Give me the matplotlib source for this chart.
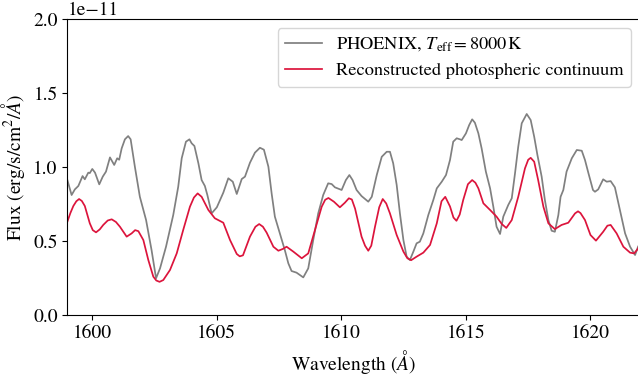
import matplotlib
matplotlib.use("Agg")
import matplotlib.pyplot as plt
import numpy as np

plt.rcParams["font.family"] = ["STIXGeneral", "DejaVu Serif"]
plt.rcParams["mathtext.fontset"] = "stix"

# PHOENIX model spectrum (wavelength in Angstrom, flux in units of 1e-11)
phoenix_wave = [
    1599.0, 1599.17, 1599.3, 1599.44, 1599.61, 1599.7, 1599.84, 1599.9, 1600.0, 1600.11,
    1600.28, 1600.42, 1600.55, 1600.71, 1600.88, 1601.0, 1601.08, 1601.18, 1601.31, 1601.44,
    1601.54, 1601.71, 1601.91, 1602.16, 1602.38, 1602.56, 1602.72, 1602.96, 1603.25, 1603.45,
    1603.59, 1603.76, 1603.9, 1603.99, 1604.1, 1604.26, 1604.39, 1604.52, 1604.62, 1604.79,
    1605.0, 1605.26, 1605.46, 1605.64, 1605.8, 1606.0, 1606.13, 1606.33, 1606.53, 1606.73,
    1606.89, 1607.07, 1607.2, 1607.33, 1607.53, 1607.73, 1607.87, 1608.0, 1608.2, 1608.47,
    1608.67, 1608.87, 1609.07, 1609.27, 1609.47, 1609.61, 1609.74, 1610.01, 1610.18, 1610.32,
    1610.45, 1610.61, 1610.81, 1611.08, 1611.22, 1611.42, 1611.62, 1611.82, 1611.95, 1612.08,
    1612.22, 1612.35, 1612.49, 1612.62, 1612.75, 1612.89, 1613.02, 1613.15, 1613.29, 1613.49,
    1613.69, 1613.83, 1614.03, 1614.2, 1614.36, 1614.49, 1614.63, 1614.76, 1614.83, 1615.0,
    1615.13, 1615.25, 1615.36, 1615.5, 1615.63, 1615.8, 1615.97, 1616.1, 1616.23, 1616.37,
    1616.5, 1616.7, 1616.84, 1616.97, 1617.1, 1617.24, 1617.44, 1617.6, 1617.74, 1617.87,
    1618.04, 1618.17, 1618.31, 1618.44, 1618.57, 1618.71, 1618.8, 1618.91, 1619.04, 1619.25,
    1619.45, 1619.65, 1619.78, 1619.92, 1620.1, 1620.18, 1620.31, 1620.51, 1620.65, 1620.81,
    1620.98, 1621.18, 1621.39, 1621.59, 1621.79, 1621.91, 1622.0,
]
phoenix_flux = [
    0.913, 0.812, 0.85, 0.873, 0.94, 0.918, 0.963, 0.96, 0.988, 0.963,
    0.884, 0.936, 0.97, 1.066, 1.015, 1.06, 1.05, 1.127, 1.188, 1.21,
    1.188, 1.003, 0.80, 0.643, 0.44, 0.25, 0.317, 0.463, 0.677, 0.868,
    1.06, 1.172, 1.188, 1.161, 1.143, 1.026, 0.913, 0.873, 0.812, 0.688,
    0.729, 0.828, 0.925, 0.902, 0.819, 0.92, 0.936, 1.03, 1.098, 1.131,
    1.118, 1.003, 0.823, 0.666, 0.553, 0.44, 0.351, 0.299, 0.288, 0.256,
    0.317, 0.508, 0.688, 0.812, 0.891, 0.886, 0.864, 0.846, 0.913, 0.947,
    0.913, 0.846, 0.805, 0.767, 0.80, 0.947, 1.07, 1.104, 1.104, 1.026,
    0.88, 0.688, 0.508, 0.396, 0.373, 0.43, 0.486, 0.497, 0.553, 0.677,
    0.778, 0.857, 0.902, 0.947, 1.048, 1.172, 1.195, 1.188, 1.183, 1.228,
    1.284, 1.323, 1.30, 1.228, 1.127, 0.97, 0.857, 0.733, 0.598, 0.549,
    0.666, 0.745, 0.79, 0.958, 1.138, 1.296, 1.359, 1.318, 1.206, 1.082,
    0.936, 0.778, 0.643, 0.571, 0.564, 0.677, 0.80, 0.846, 0.97, 1.06,
    1.116, 1.111, 1.048, 0.958, 0.846, 0.834, 0.85, 0.918, 0.902, 0.906,
    0.864, 0.711, 0.553, 0.463, 0.407, 0.463, 0.49,
]

# Reconstructed photospheric continuum (same units)
recon_wave = [
    1599.0, 1599.12, 1599.24, 1599.36, 1599.47, 1599.58, 1599.7, 1599.9, 1600.02, 1600.15,
    1600.3, 1600.44, 1600.62, 1600.78, 1600.95, 1601.11, 1601.38, 1601.58, 1601.72, 1601.85,
    1602.05, 1602.25, 1602.45, 1602.57, 1602.7, 1602.85, 1603.12, 1603.39, 1603.65, 1603.92,
    1604.08, 1604.23, 1604.39, 1604.66, 1604.92, 1605.26, 1605.53, 1605.8, 1605.92, 1606.05,
    1606.33, 1606.55, 1606.7, 1606.85, 1607.0, 1607.27, 1607.47, 1607.65, 1607.8, 1608.07,
    1608.41, 1608.67, 1608.94, 1609.21, 1609.35, 1609.48, 1609.7, 1609.94, 1610.14, 1610.3,
    1610.42, 1610.55, 1610.81, 1610.95, 1611.08, 1611.2, 1611.35, 1611.52, 1611.66, 1611.8,
    1611.95, 1612.22, 1612.49, 1612.65, 1612.8, 1613.02, 1613.29, 1613.56, 1613.83, 1614.02,
    1614.17, 1614.36, 1614.5, 1614.62, 1614.75, 1614.89, 1615.08, 1615.25, 1615.38, 1615.5,
    1615.7, 1615.97, 1616.23, 1616.44, 1616.62, 1616.84, 1617.1, 1617.37, 1617.5, 1617.6,
    1617.74, 1617.9, 1618.11, 1618.31, 1618.57, 1618.84, 1619.11, 1619.38, 1619.5, 1619.6,
    1619.78, 1620.0, 1620.22, 1620.51, 1620.68, 1620.81, 1621.05, 1621.32, 1621.59, 1621.75,
    1621.91, 1622.0,
]
recon_flux = [
    0.632, 0.69, 0.738, 0.77, 0.785, 0.772, 0.738, 0.621, 0.575, 0.56,
    0.58, 0.61, 0.64, 0.648, 0.63, 0.598, 0.531, 0.553, 0.575, 0.568,
    0.508, 0.373, 0.261, 0.235, 0.226, 0.238, 0.306, 0.418, 0.576, 0.733,
    0.795, 0.823, 0.80, 0.711, 0.655, 0.625, 0.508, 0.414, 0.398, 0.405,
    0.531, 0.598, 0.616, 0.598, 0.558, 0.463, 0.436, 0.448, 0.463, 0.43,
    0.385, 0.418, 0.576, 0.733, 0.78, 0.792, 0.767, 0.729, 0.76, 0.79,
    0.782, 0.72, 0.531, 0.47, 0.436, 0.47, 0.598, 0.73, 0.785, 0.755,
    0.688, 0.542, 0.43, 0.385, 0.372, 0.396, 0.423, 0.475, 0.621, 0.77,
    0.80, 0.735, 0.66, 0.638, 0.68, 0.778, 0.885, 0.913, 0.895, 0.857,
    0.756, 0.711, 0.666, 0.616, 0.59, 0.643, 0.80, 0.992, 1.05, 1.063,
    1.037, 0.913, 0.733, 0.621, 0.582, 0.61, 0.625, 0.688, 0.702, 0.69,
    0.643, 0.542, 0.504, 0.564, 0.605, 0.61, 0.553, 0.463, 0.423, 0.418,
    0.45, 0.49,
]

x_limits = (1599, 1622)
y_limits = (0, 2.0e-11)
x_ticks = [1600, 1605, 1610, 1615, 1620]
y_ticks = [0.0, 0.5e-11, 1.0e-11, 1.5e-11, 2.0e-11]

fig = plt.figure(figsize=(6.38, 3.76), dpi=100)
ax = fig.add_axes([0.1056, 0.1614, 0.898, 0.788])

ax.plot(phoenix_wave, np.array(phoenix_flux) * 1e-11, color="grey", lw=1.25,
        label=r"PHOENIX, $T_{\rm eff}=8000\,{\rm K}$")
ax.plot(recon_wave, np.array(recon_flux) * 1e-11, color="crimson", lw=1.25,
        label="Reconstructed photospheric continuum")

ax.set_xlim(*x_limits)
ax.set_ylim(*y_limits)
ax.set_xticks(x_ticks)
ax.set_yticks(y_ticks)
ax.tick_params(labelsize=14)
ax.yaxis.get_offset_text().set_fontsize(14)

ax.set_xlabel(r"Wavelength ($\AA$)", fontsize=14)
ax.set_ylabel(r"Flux (erg/s/cm$^2$/$\AA$)", fontsize=14)
ax.legend(loc="upper right", fontsize=13.2)

fig.savefig("out.png", dpi=100)
